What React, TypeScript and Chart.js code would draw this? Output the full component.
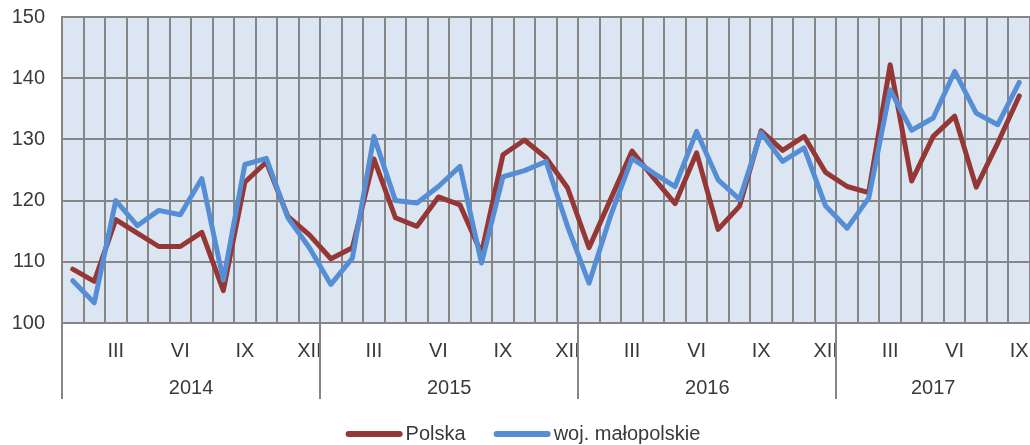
import { useEffect, useRef } from 'react';
import { Chart, registerables } from 'chart.js';

Chart.register(...registerables);

const years = ['2014', '2015', '2016', '2017'];
const months = ['I', 'II', 'III', 'IV', 'V', 'VI', 'VII', 'VIII', 'IX', 'X', 'XI', 'XII'];
const shownMonths = ['III', 'VI', 'IX', 'XII'];
const seriesNames = ['Polska', 'woj. małopolskie'];

const polska = [
  108.8, 106.8, 116.9, 114.7, 112.5, 112.5, 114.8, 105.3, 123.0, 126.3, 117.4, 114.4,
  110.5, 112.3, 126.8, 117.2, 115.8, 120.6, 119.3, 111.4, 127.5, 129.9, 127.0, 122.1,
  112.3, 120.2, 128.1, 123.7, 119.5, 127.8, 115.3, 119.1, 131.4, 128.2, 130.5, 124.6,
  122.3, 121.3, 142.2, 123.2, 130.5, 133.8, 122.2, 129.4, 137.1,
];
const malopolskie = [
  106.9, 103.3, 120.0, 115.9, 118.4, 117.7, 123.6, 107.0, 125.9, 126.9, 117.2, 112.3,
  106.3, 110.6, 130.5, 120.0, 119.6, 122.3, 125.6, 109.8, 123.9, 124.9, 126.4, 115.8,
  106.5, 117.5, 126.9, 124.5, 122.3, 131.3, 123.4, 120.2, 131.1, 126.4, 128.6, 119.1,
  115.5, 120.4, 138.1, 131.5, 133.5, 141.1, 134.3, 132.4, 139.3,
];

const categories = years.flatMap((y) => months.map((m) => `${m} ${y}`)).slice(0, polska.length);

const RED = '#953735';
const BLUE = '#558ED5';
const BG = '#DCE6F2';
const GRID = '#868686';
const TEXT = '#3a3a3a';
const FONT = 'Liberation Sans, Arial, sans-serif';
const FS = 20;

const decor = {
  id: 'decor',
  beforeDraw(chart: any) {
    const { ctx, chartArea: a } = chart;
    ctx.save();
    ctx.fillStyle = BG;
    ctx.fillRect(a.left, a.top, a.right - a.left, a.bottom - a.top);
    ctx.restore();
  },
  afterDraw(chart: any) {
    const { ctx } = chart;
    const x = chart.scales.x;
    const step = x.getPixelForValue(1) - x.getPixelForValue(0);
    ctx.save();
    ctx.strokeStyle = GRID;
    ctx.lineWidth = 2;
    ctx.fillStyle = TEXT;
    ctx.font = `${FS}px ${FONT}`;
    ctx.textAlign = 'center';
    ctx.textBaseline = 'middle';
    years.forEach((yr, k) => {
      const start = k * 12;
      if (start >= categories.length) return;
      const end = Math.min(start + 11, categories.length - 1);
      const left = Math.round(x.getPixelForValue(start) - step / 2);
      ctx.beginPath();
      ctx.moveTo(left, x.top);
      ctx.lineTo(left, x.bottom);
      ctx.stroke();
      const cx = (x.getPixelForValue(start) + x.getPixelForValue(end)) / 2;
      ctx.fillText(yr, cx, x.top + 65);
    });

    // legend
    const ly = chart.height - 11;
    const colors = [RED, BLUE];
    const boxW = 57;
    const gap = 3;
    const itemGap = 28;
    ctx.textAlign = 'left';
    const widths = seriesNames.map((n) => boxW + gap + ctx.measureText(n).width);
    const total = widths.reduce((s, w) => s + w, 0) + itemGap * (widths.length - 1);
    let lx = chart.width / 2 + 8 - total / 2;
    seriesNames.forEach((n, i) => {
      ctx.strokeStyle = colors[i];
      ctx.lineWidth = 6;
      ctx.lineCap = 'round';
      ctx.beginPath();
      ctx.moveTo(lx + 3, ly);
      ctx.lineTo(lx + boxW - 3, ly);
      ctx.stroke();
      ctx.fillText(n, lx + boxW + gap, ly);
      lx += widths[i] + itemGap;
    });
    ctx.restore();
  },
};

export default function App() {
  const ref = useRef<HTMLCanvasElement>(null);
  useEffect(() => {
    if (!ref.current) return;
    const chart = new Chart(ref.current, {
      type: 'line',
      data: {
        labels: categories,
        datasets: [
          {
            label: seriesNames[0],
            data: polska,
            borderColor: RED,
            backgroundColor: RED,
            borderWidth: 5,
            pointRadius: 0,
            tension: 0,
            borderJoinStyle: 'round',
            borderCapStyle: 'round',
            order: 1,
          },
          {
            label: seriesNames[1],
            data: malopolskie,
            borderColor: BLUE,
            backgroundColor: BLUE,
            borderWidth: 5,
            pointRadius: 0,
            tension: 0,
            borderJoinStyle: 'round',
            borderCapStyle: 'round',
            order: 0,
          },
        ],
      },
      options: {
        animation: false,
        responsive: true,
        maintainAspectRatio: false,
        layout: { padding: { top: 17, left: 0, right: 0, bottom: 46 } },
        plugins: { legend: { display: false }, tooltip: { enabled: false } },
        scales: {
          x: {
            type: 'category',
            offset: true,
            grid: { offset: true, color: GRID, lineWidth: 2, drawTicks: false },
            border: { display: true, color: GRID, width: 2 },
            ticks: {
              autoSkip: false,
              maxRotation: 0,
              padding: 16,
              color: TEXT,
              font: { family: FONT, size: FS },
              callback: (_v: any, i: number) => {
                const m = months[i % 12];
                return shownMonths.includes(m) ? m : '';
              },
            },
            afterFit: (s: any) => {
              s.height = 76;
              s.paddingLeft = 0;
              s.paddingRight = 0;
            },
          },
          y: {
            min: 100,
            max: 150,
            grid: { color: GRID, lineWidth: 2, drawTicks: false },
            border: { display: true, color: GRID, width: 2 },
            ticks: {
              stepSize: 10,
              padding: 17,
              color: TEXT,
              font: { family: FONT, size: FS },
            },
            afterFit: (s: any) => {
              s.width = 62;
              s.paddingTop = 0;
              s.paddingBottom = 0;
            },
          },
        },
      },
      plugins: [decor],
    });
    return () => chart.destroy();
  }, []);

  return (
    <div style={{ position: 'fixed', left: 0, top: 0, width: 1030, height: 445, background: '#fff' }}>
      <canvas ref={ref} />
    </div>
  );
}
